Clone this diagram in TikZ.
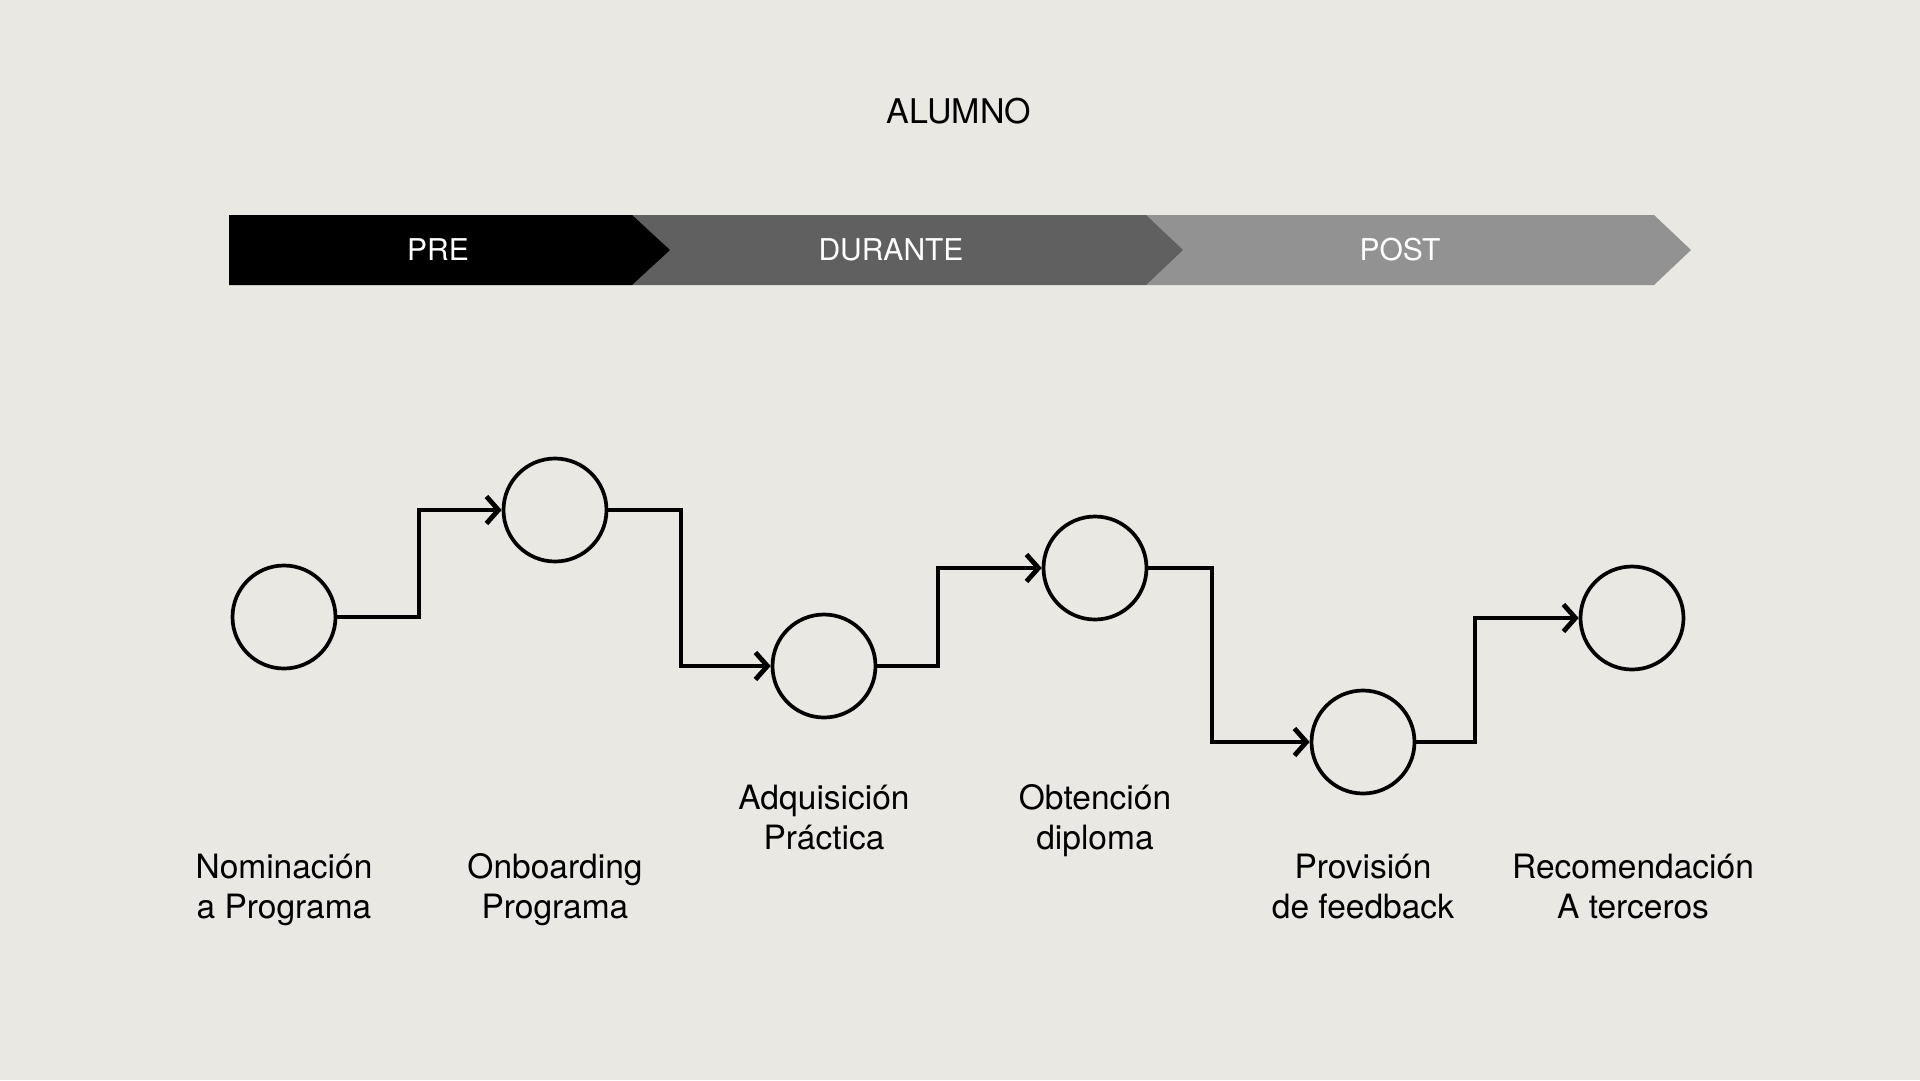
\documentclass[tikz,border=0pt]{standalone}
\usepackage{fontspec}
\setmainfont{TeX Gyre Heros}
\usetikzlibrary{arrows.meta,calc}
\definecolor{fondo}{HTML}{E9E8E3}
\definecolor{gris}{HTML}{606060}
\definecolor{grisclaro}{HTML}{929292}
\begin{document}
\begin{tikzpicture}[x=1pt,y=-1pt,
                    hito/.style={circle,draw,line width=3.7pt,minimum size=103pt,inner sep=0pt},
                    flecha/.style={line width=4.8pt,-{Straight Barb[length=12pt,width=27pt]}},
                    rotulo/.style={align=center,anchor=base,font=\fontsize{33.5}{39.5}\selectfont},
                    etapa/.style={text=white,font=\fontsize{30}{36}\selectfont}]
\fill[fondo] (0,0) rectangle (1920,1080);
\useasboundingbox (0,0) rectangle (1920,1080);
\node[font=\fontsize{34}{40}\selectfont] (alumno) at (959,111) {ALUMNO};
\fill[grisclaro] (1146,215) -- (1654,215) -- (1691,250) -- (1654,285) -- (1146,285) -- cycle;
\fill[gris] (632,215) -- (1146,215) -- (1183,250) -- (1146,285) -- (632,285) -- cycle;
\fill[black] (229,215) -- (632,215) -- (670,250) -- (632,285) -- (229,285) -- cycle;
\node[etapa] (pre) at (438,250) {PRE};
\node[etapa] (durante) at (891,250) {DURANTE};
\node[etapa] (post) at (1400,250) {POST};
\node[hito] (nominacion) at (284,617) {};
\node[hito] (onboarding) at (555,510) {};
\node[hito] (adquisicion) at (824,666) {};
\node[hito] (obtencion) at (1095,568) {};
\node[hito] (provision) at (1363,742) {};
\node[hito] (recomendacion) at (1632,618) {};
\foreach \a/\b/\x in {nominacion/onboarding/419,onboarding/adquisicion/681,adquisicion/obtencion/938,
                      obtencion/provision/1212,provision/recomendacion/1475}
    \draw[flecha] (\a.east) -| (\x,0 |- \a.east) |- (\b.west);
\node[rotulo] (t-nominacion) at (284,918) {Nominación\\a Programa};
\node[rotulo] (t-onboarding) at (555,918) {Onboarding\\Programa};
\node[rotulo] (t-adquisicion) at (824,849) {Adquisición\\Práctica};
\node[rotulo] (t-obtencion) at (1095,849) {Obtención\\diploma};
\node[rotulo] (t-provision) at (1363,918) {Provisión\\de feedback};
\node[rotulo] (t-recomendacion) at (1633,918) {Recomendación\\A terceros};
\end{tikzpicture}
\end{document}
